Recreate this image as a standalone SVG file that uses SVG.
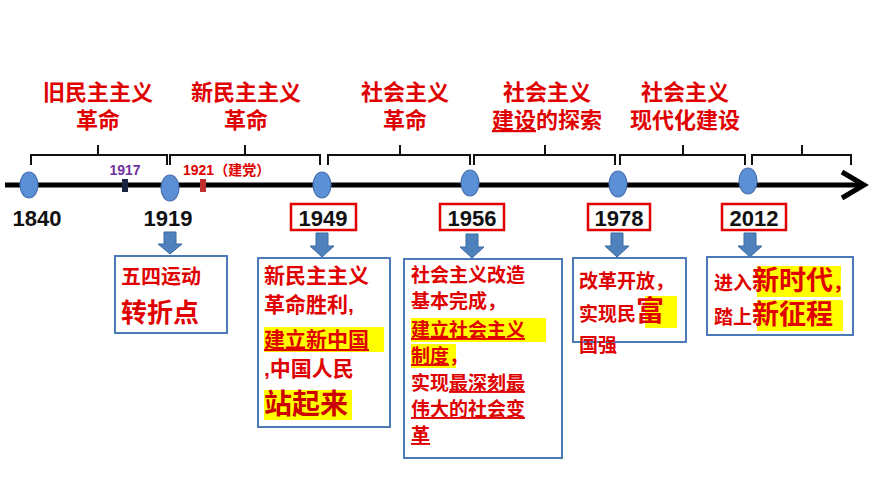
<svg xmlns="http://www.w3.org/2000/svg" width="870" height="489" viewBox="0 0 870 489">
<style>
text{font-family:"Liberation Sans","Noto Sans CJK SC",sans-serif;font-weight:bold}
.t{fill:#e00000;font-size:22px;text-anchor:middle}
.y{fill:#111;font-size:22px;text-anchor:middle}
.b{fill:#e00000;font-size:19px}
.hl{fill:#ffff00}
.br{fill:none;stroke:#111;stroke-width:2}
.node{fill:#5b8fd6;stroke:#4a72b0;stroke-width:1.2}
.box{fill:#fff;stroke:#4a7ab8;stroke-width:2}
.yb{fill:#fff;stroke:#e00000;stroke-width:2.5}
.ar{fill:#4f81bd;stroke:#3a6aa0;stroke-width:1}
</style>
<rect width="870" height="489" fill="#fff"/>
<g id="titles">
<text class="t" x="98" y="100">旧民主主义</text><text class="t" x="98" y="128">革命</text>
<text class="t" x="246" y="100">新民主主义</text><text class="t" x="246" y="128">革命</text>
<text class="t" x="405" y="100">社会主义</text><text class="t" x="405" y="128">革命</text>
<text class="t" x="547" y="100">社会主义</text><text class="t" x="547" y="128"><tspan text-decoration="underline">建设</tspan>的探索</text>
<text class="t" x="685" y="100">社会主义</text><text class="t" x="685" y="128">现代化建设</text>
</g>
<g id="connectors">
<line x1="5" y1="185" x2="862" y2="185" stroke="#000" stroke-width="5"/>
<path d="M842 172 L864 185 L842 198" fill="none" stroke="#000" stroke-width="5"/>
<path class="br" d="M31 165 V155 H98 V145 M98 155 H167 V165"/>
<path class="br" d="M170 165 V155 H245 V145 M245 155 H320 V165"/>
<path class="br" d="M328 165 V155 H400 V145 M400 155 H470 V165"/>
<path class="br" d="M474 165 V155 H545 V145 M545 155 H615 V165"/>
<path class="br" d="M620 165 V155 H683 V145 M683 155 H745 V165"/>
<path class="br" d="M752 165 V155 H802 V145 M802 155 H851 V165"/>
<rect x="122" y="179" width="6" height="13" fill="#1a2440"/>
<rect x="200" y="179" width="6" height="13" fill="#c03030"/>
<path class="ar" d="M164 232 H176 V244 H182 L170 254 L158 244 H164 Z"/>
<path class="ar" d="M316 233 H328 V246 H334 L322 257 L310 246 H316 Z"/>
<path class="ar" d="M466 234 H478 V247 H484 L472 258 L460 247 H466 Z"/>
<path class="ar" d="M611 233 H623 V246 H629 L617 257 L605 246 H611 Z"/>
<path class="ar" d="M744 233 H756 V246 H762 L750 257 L738 246 H744 Z"/>
</g>
<text x="125" y="175" font-size="14" fill="#7030a0" text-anchor="middle">1917</text>
<text x="183" y="175" font-size="14" fill="#e00000">1921（建党）</text>
<g id="n1840"><ellipse class="node" cx="29" cy="185" rx="9" ry="13"/><text class="y" x="37" y="226">1840</text></g>
<g id="n1919"><ellipse class="node" cx="170" cy="188" rx="9" ry="13"/><text class="y" x="168" y="226">1919</text>
<rect class="box" x="115" y="256" width="112" height="77"/>
<text class="b" x="121" y="284" style="font-size:20px">五四运动</text><text class="b" x="121" y="322" style="font-size:26px">转折点</text></g>
<g id="n1949"><ellipse class="node" cx="322" cy="185" rx="9" ry="13"/>
<rect class="yb" x="291" y="204" width="65" height="26"/><text class="y" x="323" y="226">1949</text>
<rect class="box" x="258" y="258" width="132" height="169"/>
<g style="font-size:21px">
<text class="b" x="264" y="283" style="font-size:21px">新民主主义</text><text class="b" x="264" y="312" style="font-size:21px">革命胜利,</text>
<rect class="hl" x="264" y="327" width="120" height="25"/><text class="b" x="264" y="347" style="font-size:21px" text-decoration="underline">建立新中国</text>
<text class="b" x="264" y="376" style="font-size:21px">,中国人民</text>
<rect class="hl" x="264" y="390" width="88" height="30"/><text class="b" x="264" y="414" style="font-size:28px;fill:#cc0000">站起来</text></g></g>
<g id="n1956"><ellipse class="node" cx="470" cy="183" rx="9" ry="13"/>
<rect class="yb" x="440" y="204" width="64" height="26"/><text class="y" x="472" y="226">1956</text>
<rect class="box" x="404" y="259" width="158" height="199"/>
<text class="b" x="411" y="282">社会主义改造</text><text class="b" x="411" y="308">基本完成，</text>
<rect class="hl" x="411" y="318" width="135" height="24"/><text class="b" x="411" y="337" text-decoration="underline">建立社会主义</text>
<rect class="hl" x="411" y="344" width="45" height="24"/><text class="b" x="411" y="363"><tspan text-decoration="underline">制度</tspan>，</text>
<text class="b" x="411" y="390">实现<tspan text-decoration="underline">最深刻最</tspan></text>
<text class="b" x="411" y="416" text-decoration="underline">伟大的社会变</text>
<text class="b" x="411" y="442" text-decoration="underline">革</text></g>
<g id="n1978"><ellipse class="node" cx="618" cy="184" rx="9" ry="13"/>
<rect class="yb" x="588" y="204" width="62" height="26"/><text class="y" x="619" y="226">1978</text>
<rect class="box" x="573" y="258" width="113" height="84"/>
<text class="b" x="579" y="288">改革开放，</text>
<rect class="hl" x="645" y="296" width="32" height="32"/>
<text class="b" x="579" y="321">实现民<tspan style="font-size:28px">富</tspan></text>
<text class="b" x="579" y="352">国强</text></g>
<g id="n2012"><ellipse class="node" cx="748" cy="181" rx="9" ry="13"/>
<rect class="yb" x="722" y="204" width="64" height="26"/><text class="y" x="754" y="226">2012</text>
<rect class="box" x="707" y="257" width="146" height="78"/>
<rect class="hl" x="757" y="266" width="84" height="31"/>
<rect class="hl" x="757" y="300" width="86" height="31"/>
<text class="b" x="714" y="290">进入<tspan style="font-size:27px">新时代</tspan>，</text>
<text class="b" x="714" y="324">踏上<tspan style="font-size:27px">新征程</tspan></text></g>
</svg>
